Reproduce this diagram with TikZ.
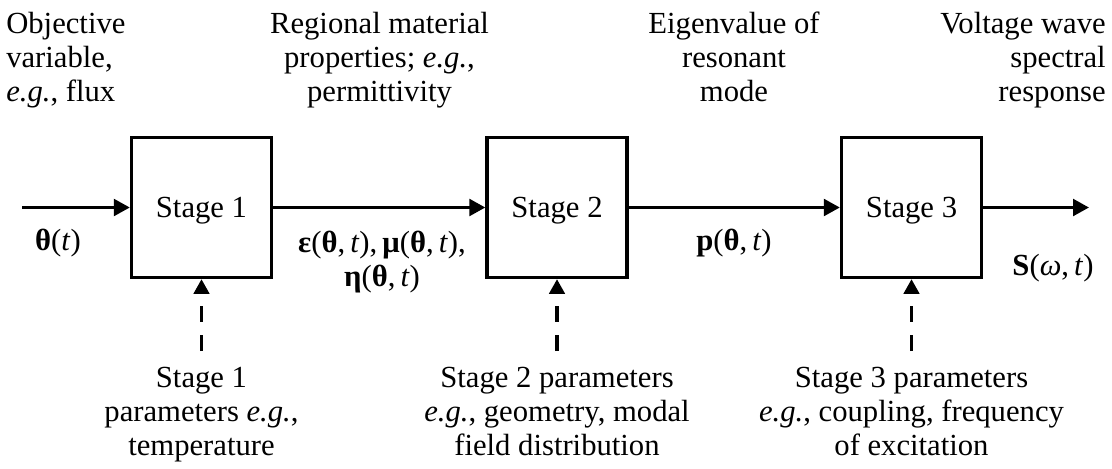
\documentclass[tikz,border=0pt]{standalone}
\usepackage{fontspec}
\setmainfont{Liberation Serif}
\usetikzlibrary{arrows.meta}
\begin{document}
\begin{tikzpicture}[x=0.75pt,y=-0.75pt,
  every node/.style={font=\fontsize{23pt}{25.5pt}\selectfont, inner sep=0pt},
  stagebox/.style={draw, line width=2.5pt, minimum width=105pt, minimum height=105pt, text depth=0pt},
  flow/.style={line width=2.5pt, -{Triangle[length=12pt,width=12.5pt]}},
  param/.style={line width=2.5pt, dash pattern=on 12pt off 10pt, -{Triangle[length=11pt,width=11.5pt]}}
]
\useasboundingbox (0,0) rectangle (1112,468);
% stage boxes
\node[stagebox] (s1) at (201.5,207.5) {Stage 1};
\node[stagebox] (s2) at (557,207.5) {Stage 2};
\node[stagebox] (s3) at (911.5,207.5) {Stage 3};
% free ends
\coordinate (in) at (22,207.5);
\coordinate (out) at (1089,207.5);
\coordinate (p1) at (201.5,351);
\coordinate (p2) at (557,351);
\coordinate (p3) at (911.5,351);
% main flow
\draw[flow] (in) -- (s1.west);
\draw[flow] (s1.east) -- (s2.west);
\draw[flow] (s2.east) -- (s3.west);
\draw[flow] (s3.east) -- (out);
% parameter inputs
\draw[param] (p1) -- (s1.south);
\draw[param] (p2) -- (s2.south);
\draw[param] (p3) -- (s3.south);
% top labels
\node[anchor=north west, align=left] (obj) at (6,12) {Objective\\variable,\\\textit{e.g.}, flux};
\node[anchor=north, align=center] (reg) at (379.5,12) {Regional material\\properties; \textit{e.g.},\\permittivity};
\node[anchor=north, align=center] (eig) at (734,12) {Eigenvalue of\\resonant\\mode};
\node[anchor=north east, align=right] (volt) at (1106,12) {Voltage wave\\spectral\\response};
% signal labels
\node (th) at (58,243) {\textbf{θ}(\textit{t})};
\node[anchor=north, align=center] (emu) at (382,231) {\textbf{ε}(\textbf{θ},\,\textit{t}),\,\textbf{μ}(\textbf{θ},\,\textit{t}),\\\textbf{η}(\textbf{θ},\,\textit{t})};
\node (pl) at (734,243) {\textbf{p}(\textbf{θ},\,\textit{t})};
\node (sl) at (1053,268) {\textbf{S}(\textit{ω},\,\textit{t})};
% bottom labels
\node[anchor=north, align=center] (b1) at (201.5,367) {Stage 1\\parameters \textit{e.g.},\\temperature};
\node[anchor=north, align=center] (b2) at (557,367) {Stage 2 parameters\\\textit{e.g.}, geometry, modal\\field distribution};
\node[anchor=north, align=center] (b3) at (911.5,367) {Stage 3 parameters\\\textit{e.g.}, coupling, frequency\\of excitation};
\end{tikzpicture}
\end{document}
